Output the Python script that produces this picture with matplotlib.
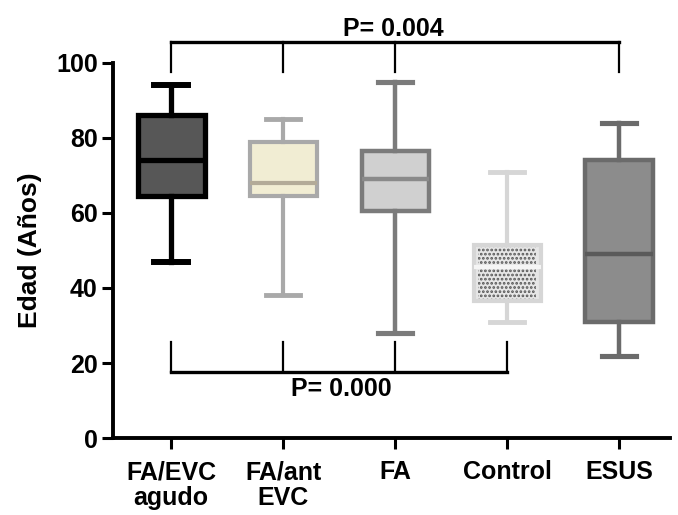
import matplotlib.pyplot as plt
import numpy as np

plt.rcParams['font.family'] = ['Liberation Sans', 'DejaVu Sans']
plt.rcParams['font.weight'] = 'bold'

# groups and box summary values
grupos = ["FA/EVC\nagudo", "FA/ant\nEVC", "FA", "Control", "ESUS"]
minimo = [47, 38, 28, 31, 22]
q1 = [64.5, 64.5, 60.5, 36.5, 31]
mediana = [74, 68, 69, 45.5, 49]
q3 = [86, 79, 76.5, 51.5, 74]
maximo = [94, 85, 95, 71, 84]

relleno = ["#575757", "#f1edd3", "#d0d0d0", "#e6e6e6", "#8c8c8c"]
borde = ["#000000", "#a9a9a9", "#7b7b7b", "#d6d6d6", "#6b6b6b"]
color_med = ["#000000", "#b3ab98", "#8a8a8a", "#f5f5f5", "#5a5a5a"]
grosor = [3.8, 3.0, 3.2, 3.0, 3.2]

stats = []
for i in range(len(grupos)):
    stats.append(dict(whislo=minimo[i], q1=q1[i], med=mediana[i],
                      q3=q3[i], whishi=maximo[i], fliers=[]))

fig = plt.figure(figsize=(6.78, 5.15), dpi=100)
ax = fig.add_axes([0.1667, 0.1495, 0.8215, 0.7282])

pos = np.arange(1, 6)
bp = ax.bxp(stats, positions=pos, widths=0.6, patch_artist=True,
            showfliers=False)

for i in range(5):
    bp['boxes'][i].set_facecolor(relleno[i])
    bp['boxes'][i].set_edgecolor(borde[i])
    bp['boxes'][i].set_linewidth(grosor[i])
    bp['medians'][i].set_color(color_med[i])
    bp['medians'][i].set_linewidth(grosor[i])
    for k in (2 * i, 2 * i + 1):
        bp['whiskers'][k].set_color(borde[i])
        bp['whiskers'][k].set_linewidth(grosor[i])
        bp['caps'][k].set_color(borde[i])
        bp['caps'][k].set_linewidth(grosor[i] + 0.5)

# dotted pattern inside the Control box
plt.rcParams['hatch.linewidth'] = 1.3
ax.bar(pos[3], q3[3] - q1[3] - 1.2, bottom=q1[3] + 0.6, width=0.52,
       fill=False, hatch='....', edgecolor='#555555', linewidth=0, zorder=3)
ax.plot([pos[3] - 0.27, pos[3] + 0.27], [mediana[3], mediana[3]],
        color='#f5f5f5', lw=3, zorder=4)

ax.set_xlim(0.48, 5.455)
ax.set_ylim(0, 100)
ax.set_yticks([0, 20, 40, 60, 80, 100])
ax.set_xticks(pos)
ax.set_xticklabels(grupos, linespacing=1.1)
ax.tick_params(axis='both', labelsize=18, width=2.2, length=8, direction='out')
ax.tick_params(axis='x', pad=8)
ax.tick_params(axis='y', pad=3)
for lab in ax.get_xticklabels() + ax.get_yticklabels():
    lab.set_fontweight('bold')
ax.set_ylabel("Edad (Años)", fontsize=19, fontweight='bold', labelpad=10)

for s in ['top', 'right']:
    ax.spines[s].set_visible(False)
for s in ['left', 'bottom']:
    ax.spines[s].set_linewidth(2.8)

# significance brackets
top_y, top_tick = 105.5, 97.5
for x in [1, 2, 3, 5]:
    ax.plot([x, x], [top_tick, top_y], color='black', lw=1.6, clip_on=False)
ax.plot([1, 5], [top_y, top_y], color='black', lw=2.4, clip_on=False)
ax.text(2.98, top_y + 0.4, "P= 0.004", ha='center', va='bottom',
        fontsize=18, fontweight='bold')

bot_y, bot_tick = 17.5, 25.7
for x in [1, 2, 3, 4]:
    ax.plot([x, x], [bot_y, bot_tick], color='black', lw=1.6)
ax.plot([1, 4], [bot_y, bot_y], color='black', lw=2.4)
ax.text(2.52, bot_y - 1.3, "P= 0.000", ha='center', va='top',
        fontsize=18, fontweight='bold')

fig.savefig("out.png", dpi=100)
